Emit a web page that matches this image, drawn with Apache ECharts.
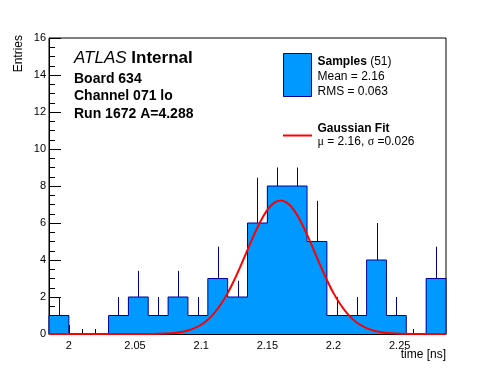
<!DOCTYPE html>
<html>
<head>
<meta charset="utf-8">
<script src="https://cdn.jsdelivr.net/npm/echarts@6/dist/echarts.min.js"></script>
<style>
html,body{margin:0;padding:0;background:#fff;}
#c{width:496px;height:372px;}
</style>
</head>
<body>
<div id="c"></div>
<script>
// ---- data ----
const binEdges = [1.985, 2.000, 2.015, 2.030, 2.045, 2.060, 2.075, 2.090, 2.105, 2.120, 2.135,
                  2.150, 2.165, 2.180, 2.195, 2.210, 2.225, 2.240, 2.255, 2.270, 2.285];
const counts   = [1, 0, 0, 1, 2, 1, 2, 1, 3, 2, 6, 8, 8, 5, 1, 1, 4, 1, 0, 3];
const errTops  = [2, 0, 0, 2, 3.41, 2, 3.41, 2, 4.72, 2.88, 8.45, 9.0, 9.0, 7.2, 2, 2, 6, 2, 0, 4.72];
const fitX = [1.985, 2.06, 2.08, 2.085, 2.09, 2.095, 2.10, 2.105, 2.11, 2.115, 2.12, 2.125, 2.13, 2.135,
              2.14, 2.145, 2.15, 2.155, 2.16, 2.165, 2.17, 2.175, 2.18, 2.185, 2.19, 2.195, 2.20,
              2.205, 2.21, 2.215, 2.22, 2.225, 2.23, 2.235, 2.24, 2.26, 2.285];
const fitY = [0, 0, 0.06, 0.11, 0.19, 0.32, 0.50, 0.77, 1.14, 1.62, 2.21, 2.92, 3.71, 4.55,
              5.37, 6.11, 6.71, 7.09, 7.22, 7.09, 6.71, 6.11, 5.37, 4.55, 3.71, 2.92, 2.21,
              1.62, 1.14, 0.77, 0.50, 0.32, 0.19, 0.11, 0.06, 0, 0];
const xMajorTicks = [2.00, 2.05, 2.10, 2.15, 2.20, 2.25];
const xMinorTicks = [1.99, 2.01, 2.02, 2.03, 2.04, 2.06, 2.07, 2.08, 2.09, 2.11, 2.12, 2.13, 2.14,
                     2.16, 2.17, 2.18, 2.19, 2.21, 2.22, 2.23, 2.24, 2.26, 2.27, 2.28];
const yTicks = [0, 2, 4, 6, 8, 10, 12, 14, 16];

// ---- build series data ----
const barData = counts.map((c, i) => [binEdges[i], binEdges[i + 1], c]);
const stepData = [[binEdges[0], 0]];
counts.forEach((c, i) => { stepData.push([binEdges[i], c]); stepData.push([binEdges[i + 1], c]); });
stepData.push([binEdges[binEdges.length - 1], 0]);
const errData = [];
counts.forEach((c, i) => { if (c > 0) errData.push([(binEdges[i] + binEdges[i + 1]) / 2, c, errTops[i]]); });
const fitData = fitX.map((x, i) => [x, fitY[i]]);

const FONT = '"Liberation Sans", Arial, Helvetica, sans-serif';
const FILL = '#0099ff';
const EDGE = '#000099';

const chart = echarts.init(document.getElementById('c'), null, {renderer: 'canvas'});
chart.setOption({
  animation: false,
  backgroundColor: '#fff',
  grid: {left: 49, right: 50, top: 38, bottom: 38, show: true, borderColor: '#000', borderWidth: 1, backgroundColor: 'transparent'},
  xAxis: [{
    type: 'value', min: binEdges[0], max: binEdges[binEdges.length - 1],
    position: 'bottom',
    axisLine: {show: true, onZero: false, lineStyle: {color: '#000', width: 1}},
    axisTick: {show: true, inside: true, length: 9, customValues: xMajorTicks, lineStyle: {color: '#000'}},
    axisLabel: {show: true, customValues: xMajorTicks, margin: 6, fontSize: 11, fontFamily: FONT, color: '#000'},
    splitLine: {show: false}
  }, {
    type: 'value', min: binEdges[0], max: binEdges[binEdges.length - 1],
    position: 'bottom', offset: 0,
    axisLine: {show: false},
    axisTick: {show: true, inside: true, length: 5, customValues: xMinorTicks, lineStyle: {color: '#000'}},
    axisLabel: {show: false},
    splitLine: {show: false}
  }],
  yAxis: {
    type: 'value', min: yTicks[0], max: yTicks[yTicks.length - 1], interval: 2,
    axisLine: {show: true, onZero: false, lineStyle: {color: '#000', width: 1}},
    axisTick: {show: true, inside: true, length: 12, lineStyle: {color: '#000'}},
    minorTick: {show: true, splitNumber: 4, length: 6, lineStyle: {color: '#000'}},
    axisLabel: {margin: 3, fontSize: 11, fontFamily: FONT, color: '#000'},
    splitLine: {show: false}
  },
  series: [{
    type: 'custom', xAxisIndex: 0, yAxisIndex: 0, z: 2,
    data: barData,
    encode: {x: [0, 1], y: 2},
    renderItem: function (params, api) {
      const p0 = api.coord([api.value(0), 0]);
      const p1 = api.coord([api.value(1), api.value(2)]);
      const x0 = Math.round(p0[0]), x1 = Math.round(p1[0]);
      return {type: 'rect', shape: {x: x0, y: p1[1], width: x1 - x0, height: p0[1] - p1[1]},
              style: {fill: FILL, stroke: null}};
    }
  }, {
    type: 'line', xAxisIndex: 0, yAxisIndex: 0, z: 3,
    data: stepData, showSymbol: false, symbol: 'none',
    lineStyle: {color: EDGE, width: 1}, clip: true
  }, {
    type: 'custom', xAxisIndex: 0, yAxisIndex: 0, z: 4,
    data: errData,
    encode: {x: 0, y: [1, 2]},
    renderItem: function (params, api) {
      const a = api.coord([api.value(0), api.value(1)]);
      const b = api.coord([api.value(0), api.value(2)]);
      const x = Math.round(a[0]) + 0.5;
      return {type: 'line', shape: {x1: x, y1: a[1], x2: x, y2: b[1]}, style: {stroke: EDGE, lineWidth: 1}};
    }
  }, {
    type: 'custom', xAxisIndex: 0, yAxisIndex: 0, z: 20, zlevel: 1, clip: false,
    data: fitData,
    encode: {x: 0, y: 1},
    renderItem: function (params, api) {
      if (params.dataIndex !== 0) return null;
      const pts = fitData.map(p => api.coord(p));
      return {type: 'polyline', shape: {points: pts, smooth: 0.3},
              style: {stroke: '#ff0000', lineWidth: 2, fill: null}};
    }
  }],
  graphic: [
    {type: 'text', x: 74, y: 58, z: 10, style: {text: '{a|ATLAS} {b|Internal}', verticalAlign: 'middle', fill: '#000',
      rich: {a: {fontSize: 17, fontStyle: 'italic', fontFamily: FONT, fill: '#000'},
             b: {fontSize: 17, fontWeight: 'bold', fontFamily: FONT, fill: '#000'}},
      font: '17px ' + FONT}},
    {type: 'text', x: 74, y: 79, z: 10, style: {text: 'Board 634', verticalAlign: 'middle', fill: '#000', font: 'bold 14px ' + FONT}},
    {type: 'text', x: 74, y: 96.5, z: 10, style: {text: 'Channel 071 lo', verticalAlign: 'middle', fill: '#000', font: 'bold 14px ' + FONT}},
    {type: 'text', x: 74, y: 114, z: 10, style: {text: 'Run 1672 A=4.288', verticalAlign: 'middle', fill: '#000', font: 'bold 14px ' + FONT}},
    // legend
    {type: 'rect', z: 10, shape: {x: 283.5, y: 53.5, width: 28, height: 43}, style: {fill: FILL, stroke: EDGE, lineWidth: 1}},
    {type: 'text', x: 317.5, y: 61.5, z: 10, style: {text: '{b|Samples} (51)', verticalAlign: 'middle', fill: '#000', font: '12px ' + FONT,
      rich: {b: {fontWeight: 'bold', fontSize: 12, fontFamily: FONT, fill: '#000'}}}},
    {type: 'text', x: 317.5, y: 76.5, z: 10, style: {text: 'Mean = 2.16', verticalAlign: 'middle', fill: '#000', font: '12px ' + FONT}},
    {type: 'text', x: 317.5, y: 91.5, z: 10, style: {text: 'RMS = 0.063', verticalAlign: 'middle', fill: '#000', font: '12px ' + FONT}},
    {type: 'line', z: 10, shape: {x1: 283, y1: 135.5, x2: 312, y2: 135.5}, style: {stroke: '#ff0000', lineWidth: 2}},
    {type: 'text', x: 317.5, y: 129, z: 10, style: {text: 'Gaussian Fit', verticalAlign: 'middle', fill: '#000', font: 'bold 12px ' + FONT}},
    {type: 'text', x: 317.5, y: 141.5, z: 10, style: {text: '{s|\u03bc} = 2.16, {s|\u03c3} =0.026', verticalAlign: 'middle', fill: '#000', font: '12px ' + FONT,
      rich: {s: {fontFamily: '"Liberation Serif", "DejaVu Serif", serif', fontSize: 12, fill: '#000'}}}},
    // axis titles
    {type: 'text', x: 19, y: 35, rotation: Math.PI / 2, z: 10, style: {text: 'Entries', align: 'right', verticalAlign: 'middle', fill: '#000', font: '12px ' + FONT}},
    {type: 'text', x: 446, y: 355, z: 10, style: {text: 'time [ns]', align: 'right', verticalAlign: 'middle', fill: '#000', font: '12px ' + FONT}}
  ]
});
</script>
</body>
</html>
